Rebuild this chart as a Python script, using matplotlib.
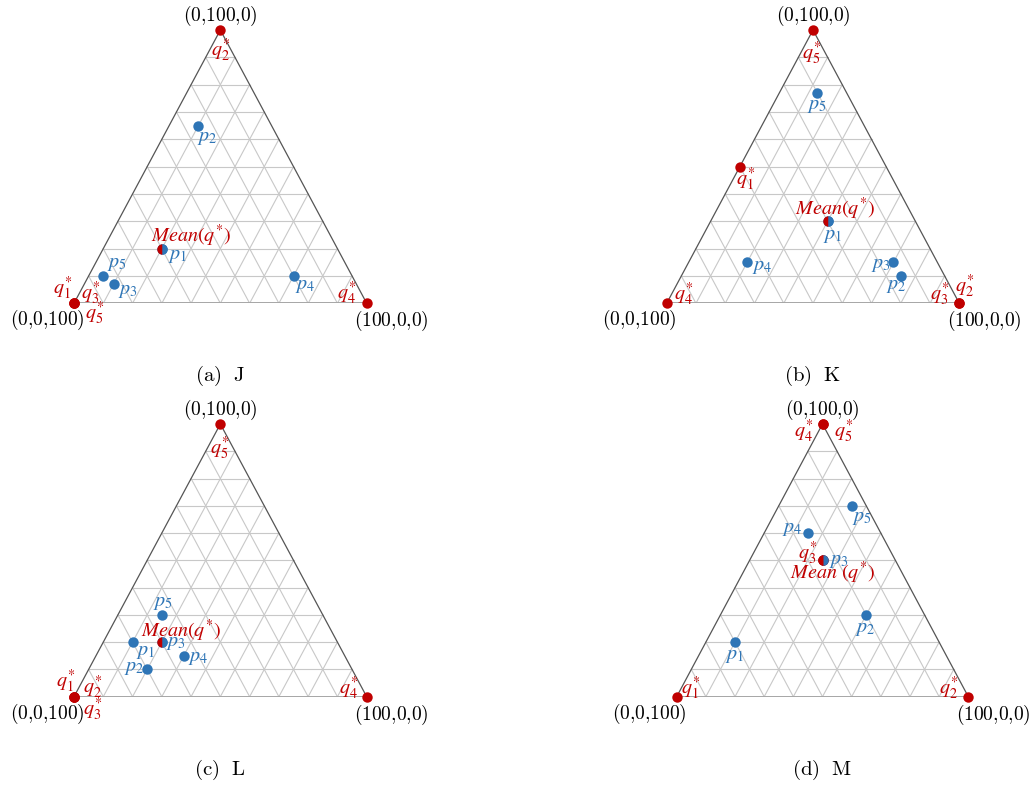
import matplotlib
matplotlib.use("Agg")
import matplotlib.pyplot as plt
import numpy as np

plt.rcParams['mathtext.fontset'] = 'cm'

RED = '#C00000'
BLUE = '#2E75B6'

# ternary points (a, b, c): a -> (100,0,0) corner, b -> top, c -> (0,0,100) corner
panel_names = ['(a)  J', '(b)  K', '(c)  L', '(d)  M']

p_a = [[20, 10, 10, 70, 5], [40, 75, 70, 20, 13], [10, 20, 20, 30, 15], [10, 50, 25, 15, 25]]
p_b = [[20, 65, 7, 10, 10], [30, 10, 15, 15, 77], [20, 10, 20, 15, 30], [20, 30, 50, 60, 70]]

q_a = [[0, 0, 0, 100, 0], [0, 100, 100, 0, 0], [0, 0, 0, 100, 0], [0, 100, 25, 0, 0]]
q_b = [[0, 100, 0, 0, 0], [50, 0, 0, 0, 100], [0, 0, 0, 0, 100], [0, 0, 50, 100, 100]]

mean_a = [20, 40, 20, 25]
mean_b = [20, 30, 20, 50]
mean_text = [r'$Mean(q^{*})$', r'$Mean(q^{*})$', r'$Mean(q^{*})$', r'$Mean\ (q^{*})$']

# label offsets in pixels (dx, dy), y up
p_off = [
    [(16, -7), (9, -12), (14, -6), (12, -10), (14, 12)],
    [(5, -14), (-5, -10), (-13, -2), (15, -4), (0, -13)],
    [(13, -9), (-13, 2), (14, 0), (14, -2), (1, 12)],
    [(0, -13), (-1, -14), (16, 0), (-16, 5), (10, -12)],
]
q_off = [
    [(-11, 15), (0, -20), (17, 10), (-20, 10), (21, -10)],
    [(6, -13), (5, 17), (-20, 9), (17, 9), (-1, -23)],
    [(-8, 15), (19, 9), (19, -13), (-18, 8), (-1, -24)],
    [(14, 8), (-20, 8), (-15, 7), (-19, -7), (21, -7)],
]
mean_off = [(29, 13), (7, 12), (19, 11), (10, -13)]

# axes boxes in pixels: left, right, top, bottom of each triangle
boxes = [(74, 366.7, 30, 303.3), (666.7, 959.3, 30, 303.3),
         (74, 366.7, 424, 696.7), (676.7, 968.3, 424, 696.7)]

W, H = 1031, 787
fig = plt.figure(figsize=(W / 100, H / 100), dpi=100)


def tern(a, b):
    a = np.asarray(a, dtype=float) / 100
    b = np.asarray(b, dtype=float) / 100
    return a + b / 2, b


for i in range(4):
    l, r, t, bt = boxes[i]
    ax = fig.add_axes([l / W, (H - bt) / H, (r - l) / W, (bt - t) / H])
    ax.set_xlim(0, 1)
    ax.set_ylim(0, 1)
    ax.axis('off')

    # grid
    for k in range(1, 10):
        v = k / 10
        ax.plot([v / 2, 1 - v / 2], [v, v], color='#c8c8c8', lw=0.8, zorder=1)
        ax.plot([v, v + (1 - v) / 2], [0, 1 - v], color='#c8c8c8', lw=0.8, zorder=1)
        ax.plot([1 - v, (1 - v) / 2], [0, 1 - v], color='#c8c8c8', lw=0.8, zorder=1)
    ax.plot([0, 0.5, 1], [0, 1, 0], color='#555555', lw=0.9, zorder=2)
    ax.plot([0, 1], [0, 0], color='#a6a6a6', lw=1.4, zorder=2)

    # vertex labels
    kw = dict(textcoords='offset pixels', ha='center', va='center', fontsize=14)
    ax.annotate(r'$\mathrm{(0{,}100{,}0)}$', (0.5, 1), xytext=(0, 14), **kw)
    ax.annotate(r'$\mathrm{(0{,}0{,}100)}$', (0, 0), xytext=(-27, -17), **kw)
    ax.annotate(r'$\mathrm{(100{,}0{,}0)}$', (1, 0), xytext=(25, -18), **kw)

    px, py = tern(p_a[i], p_b[i])
    qx, qy = tern(q_a[i], q_b[i])
    ax.plot(px, py, 'o', color=BLUE, ms=7.5, mew=0, clip_on=False, zorder=4)
    ax.plot(qx, qy, 'o', color=RED, ms=7.5, mew=0, clip_on=False, zorder=4)
    mx, my = tern(mean_a[i], mean_b[i])
    ax.plot([mx], [my], 'o', ms=7.5, mew=0, fillstyle='left', markerfacecolor=RED,
            markerfacecoloralt=BLUE, clip_on=False, zorder=5)

    kw = dict(textcoords='offset pixels', ha='center', va='center', fontsize=14.5,
              math_fontfamily='stix', zorder=6)
    for j in range(5):
        ax.annotate(r'$p_{%d}$' % (j + 1), (px[j], py[j]), xytext=p_off[i][j],
                    color=BLUE, **kw)
        ax.annotate(r'$q_{%d}^{*}$' % (j + 1), (qx[j], qy[j]), xytext=q_off[i][j],
                    color=RED, **kw)
    ax.annotate(mean_text[i], (mx, my), xytext=mean_off[i], color=RED, **kw)

    fig.text((l + r) / 2 / W, 1 - (bt + 73) / H, r'$\mathrm{%s}$' % panel_names[i].replace(' ', r'\ '),
             ha='center', va='center', fontsize=15)

plt.savefig('out.png', dpi=100)
